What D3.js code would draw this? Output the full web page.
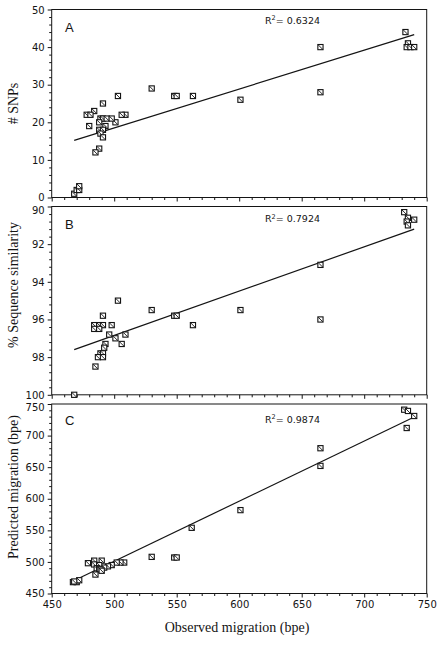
<!DOCTYPE html>
<html><head><meta charset="utf-8">
<script src="https://cdn.jsdelivr.net/npm/d3@7"></script>
<style>
html,body{margin:0;padding:0;background:#fff;}
svg{display:block;}
.tick text{font-family:"DejaVu Sans",sans-serif;}
</style></head>
<body>
<svg id="chart" width="442" height="645"></svg>
<script>
// ---- data (observed migration in bpe) ----
const obsA = [733,735,734,737,740,665,665,601,563,548,550,530,503,491,509,506,501,484,478,481,480,489,491,494,498,488,493,488,491,489,491,488,485,468,470,472,472];
const snpsA = [44,41,40,40,40,40,28,26,27,27,27,29,27,25,22,22,20,23,22,22,19,21,21,21,21,20,19,18,18,17,16,13,12,1,2,2,3];

const obsB = [732,735,734,740,735,665,665,601,563,548,550,530,503,491,498,484,488,491,484,488,496,509,501,506,493,492,489,491,487,491,485,468];
const simB = [90.3,90.6,90.8,90.7,91.0,93.1,96.0,95.5,96.3,95.8,95.8,95.5,95.0,95.8,96.3,96.3,96.3,96.3,96.5,96.5,96.8,96.8,97.0,97.3,97.3,97.5,97.8,97.8,98.0,98.0,98.5,100];

const obsC = [732,735,740,734,665,665,601,562,548,550,530,508,505,502,498,495,492,479,484,490,484,488,486,488,489,490,485,467,470,472,468];
const predC = [741,739,731,712,680,652,582,554,507,507,508,499,499,499,495,493,491,498,502,502,496,495,490,489,488,486,480,468,468,471,469];

// regression lines: [x0, y0, x1, y1]
const fitA = [468, 15.2, 740, 43.3];
const fitB = [468, 97.6, 740, 91.2];
const fitC = [468, 470.5, 740, 729.4];

const r2Labels = ["0.6324", "0.7924", "0.9874"];
const panelLetters = ["A", "B", "C"];
const yTitles = ["# SNPs", "% Sequence similarity", "Predicted migration (bpe)"];
const xTitle = "Observed migration (bpe)";
const xTicks = [450, 500, 550, 600, 650, 700, 750];
const yTicksA = [0, 10, 20, 30, 40, 50];
const yTicksB = [90, 92, 94, 96, 98, 100];
const yTicksC = [450, 500, 550, 600, 650, 700, 750];

// ---- layout ----
const svg = d3.select("#chart");
const left = 51.7, right = 426.7;
const x = d3.scaleLinear().domain([450, 750]).range([left, right]);
const ink = "#141414";

const panels = [
  {top: 9.5, bottom: 197.5, domain: [0, 50], ticks: yTicksA, minor: 2, xs: obsA, ys: snpsA, fit: fitA, r2y: 23.5, lety: 31.7, ty: 103.5, topShift: 0.5},
  {top: 206.5, bottom: 394.8, domain: [100, 90], ticks: yTicksB, minor: 0.4, xs: obsB, ys: simB, fit: fitB, r2y: 222, lety: 229.3, ty: 285, topShift: 3.5},
  {top: 404, bottom: 593.5, domain: [450, 750], ticks: yTicksC, minor: 10, xs: obsC, ys: predC, fit: fitC, r2y: 422.5, lety: 425.3, ty: 487, topShift: 3.3}
];

panels.forEach((p, i) => {
  const y = d3.scaleLinear().domain(p.domain).range([p.bottom, p.top]);
  const g = svg.append("g");
  const topVal = p.domain[1];

  // minor y ticks
  const lo = Math.min(...p.domain), hi = Math.max(...p.domain);
  const minorY = d3.range(lo, hi + p.minor / 2, p.minor).filter(v => !p.ticks.some(t => Math.abs(t - v) < 1e-6));
  const yMinor = d3.axisLeft(y).tickValues(minorY).tickSize(2.5).tickFormat("");
  g.append("g").attr("transform", `translate(${left},0)`).call(yMinor)
    .call(s => s.select(".domain").remove())
    .call(s => s.selectAll("line").attr("stroke", ink));
  const yMajor = d3.axisLeft(y).tickValues(p.ticks).tickSize(4).tickPadding(3).tickFormat(d3.format("d"));
  g.append("g").attr("transform", `translate(${left},0)`).call(yMajor)
    .call(s => s.select(".domain").remove())
    .call(s => s.selectAll("line").attr("stroke", ink))
    .call(s => s.selectAll("text").attr("font-size", 10).attr("fill", ink)
      .attr("y", d => d === topVal ? p.topShift : 0));

  // x ticks
  const minorX = d3.range(450, 751, 10).filter(v => v % 50 !== 0);
  const xMinor = d3.axisBottom(x).tickValues(minorX).tickSize(2.5).tickFormat("");
  g.append("g").attr("transform", `translate(0,${p.bottom})`).call(xMinor)
    .call(s => s.select(".domain").remove())
    .call(s => s.selectAll("line").attr("stroke", ink));
  const xMajor = d3.axisBottom(x).tickValues(xTicks).tickSize(4).tickPadding(3)
    .tickFormat(i === 2 ? d3.format("d") : "");
  g.append("g").attr("transform", `translate(0,${p.bottom})`).call(xMajor)
    .call(s => s.select(".domain").remove())
    .call(s => s.selectAll("line").attr("stroke", ink))
    .call(s => s.selectAll("text").attr("font-size", 10).attr("fill", ink));

  // frame
  g.append("rect").attr("x", left).attr("y", p.top)
    .attr("width", right - left).attr("height", p.bottom - p.top)
    .attr("fill", "none").attr("stroke", ink).attr("stroke-width", 1);

  // regression line
  g.append("line")
    .attr("x1", x(p.fit[0])).attr("y1", y(p.fit[1]))
    .attr("x2", x(p.fit[2])).attr("y2", y(p.fit[3]))
    .attr("stroke", ink).attr("stroke-width", 1.2);

  // markers
  const pts = p.xs.map((v, k) => [v, p.ys[k]]);
  const m = g.selectAll("g.pt").data(pts).enter().append("g")
    .attr("transform", d => `translate(${x(d[0])},${y(d[1])})`);
  m.append("rect").attr("x", -2.6).attr("y", -2.6).attr("width", 5.2).attr("height", 5.2)
    .attr("fill", "#fff").attr("stroke", ink).attr("stroke-width", 1.1);
  m.append("line").attr("x1", -2.2).attr("y1", -2.2).attr("x2", 2.2).attr("y2", 2.2)
    .attr("stroke", ink).attr("stroke-width", 0.9);

  // panel letter
  g.append("text").attr("x", 65).attr("y", p.lety)
    .attr("font-family", "Liberation Sans, Arial, sans-serif").attr("font-size", 13)
    .attr("fill", ink).text(panelLetters[i]);

  // R² label
  const t = g.append("text").attr("x", 265).attr("y", p.r2y)
    .attr("font-family", "DejaVu Sans, sans-serif").attr("font-size", 9.5).attr("fill", ink);
  t.append("tspan").text("R");
  t.append("tspan").attr("font-size", 6.5).attr("dy", -3.5).text("2");
  t.append("tspan").attr("dy", 3.5).text("= " + r2Labels[i]);

  // y title
  svg.append("text")
    .attr("transform", `translate(17.5,${p.ty}) rotate(-90)`)
    .attr("text-anchor", "middle")
    .attr("font-family", "Liberation Serif, Times New Roman, serif").attr("font-size", 14)
    .attr("fill", ink).text(yTitles[i]);
});

svg.append("text").attr("x", 237).attr("y", 632)
  .attr("text-anchor", "middle")
  .attr("font-family", "Liberation Serif, Times New Roman, serif").attr("font-size", 14)
  .attr("fill", ink).text(xTitle);
</script>
</body></html>
